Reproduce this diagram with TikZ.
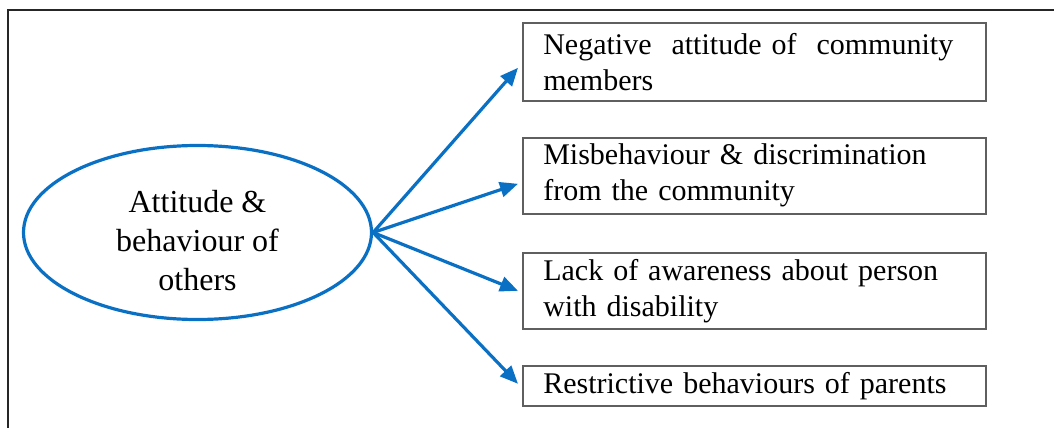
\documentclass[tikz,border=0pt]{standalone}
\usepackage{fontspec}
\setmainfont{Liberation Serif}
\usetikzlibrary{shapes.geometric,arrows.meta}
\definecolor{linkblue}{RGB}{10,112,196}
\definecolor{boxgray}{RGB}{95,95,95}
\begin{document}
\begin{tikzpicture}[x=0.5pt,y=-0.5pt,
  hubshape/.style={ellipse,draw=linkblue,line width=1.6pt,
    minimum width=174pt,minimum height=87pt,inner sep=0pt,
    align=center,font=\fontsize{16pt}{19.5pt}\selectfont},
  itembox/.style={draw=boxgray,line width=0.8pt,anchor=north west,
    minimum width=231.5pt,text width=211pt,inner xsep=10pt,inner ysep=0pt,
    align=left,font=\fontsize{15pt}{18pt}\selectfont},
  link/.style={draw=linkblue,line width=1.6pt,
    -{Triangle[length=9pt,width=7.5pt]}}]
  % canvas and outer frame (right and bottom edges run off the page)
  \clip (0,0) rectangle (1054,428);
  \draw[line width=1pt,black!85] (7.5,10) rectangle (1080,450);

  % central ellipse; the strut sets the text a little below centre
  \node[hubshape] (hub) at (197.5,232.5)
    {\rule{0pt}{19pt}Attitude \&\\behaviour of\\others};

  % the four outcome boxes
  \node[itembox,minimum height=39pt] (b1) at (522,22)
    {Negative\ \ attitude of\ \ community\\members};
  \node[itembox,minimum height=38pt] (b2) at (522,137)
    {Misbehaviour \& discrimination\\from the community};
  \node[itembox,minimum height=38pt] (b3) at (522,252)
    {Lack of awareness about person\\with disability};
  \node[itembox,minimum height=20pt] (b4) at (522,365)
    {Restrictive behaviours of parents};

  % arrows fanning out from the ellipse
  \coordinate (src) at (hub.east);
  \draw[link] (src) -- ([shift={(-4,6)}]b1.west);
  \draw[link] (src) -- ([shift={(-4,8)}]b2.west);
  \draw[link] (src) -- ([shift={(-4,0)}]b3.west);
  \draw[link] (src) -- ([shift={(-4,-2)}]b4.west);
\end{tikzpicture}
\end{document}
